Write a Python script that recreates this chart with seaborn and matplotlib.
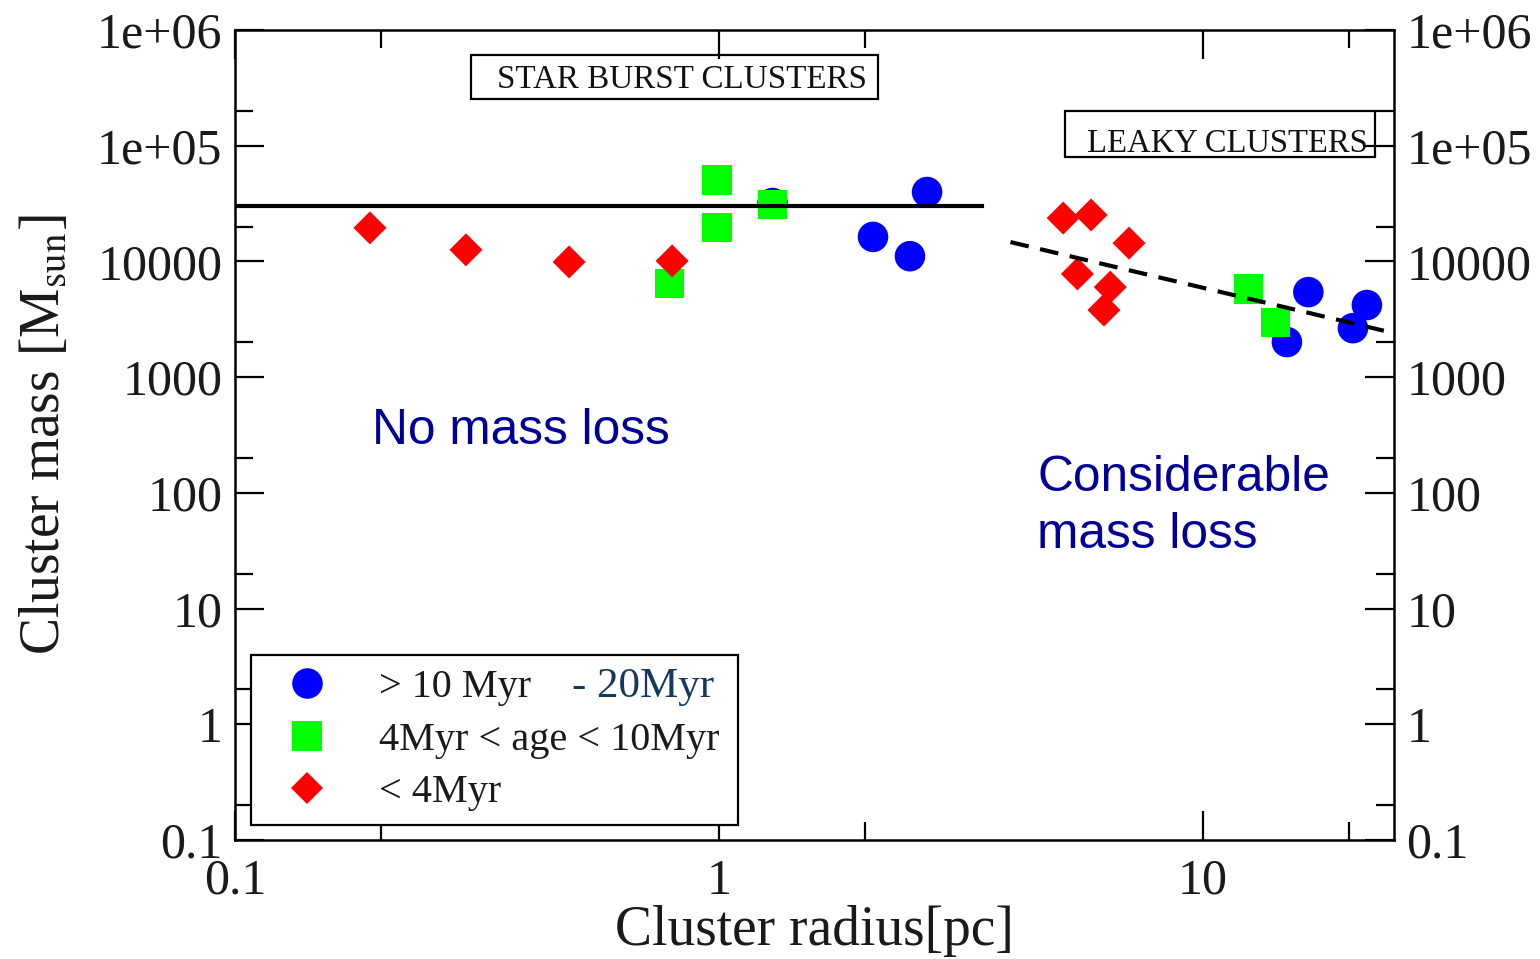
import numpy as np
import pandas as pd
import matplotlib
matplotlib.use("Agg")
import matplotlib.pyplot as plt
from matplotlib.lines import Line2D
from matplotlib.patches import Rectangle
from matplotlib.ticker import FixedLocator, FixedFormatter, NullFormatter
import seaborn as sns

# ---- cluster samples: radius [pc] and mass [Msun] by age group ----
old_radius = [1.29, 2.08, 2.48, 2.69, 14.9, 16.5, 20.4, 21.8]
old_mass = [32000, 16300, 11100, 39800, 2010, 5430, 2650, 4200]

mid_radius = [0.79, 0.99, 0.99, 1.29, 12.4, 14.1]
mid_mass = [6400, 19800, 50600, 31300, 5770, 2990]

young_radius = [0.19, 0.30, 0.49, 0.80, 5.14, 5.87, 7.03, 5.50, 6.43, 6.24]
young_mass = [19500, 12600, 9900, 10100, 23700, 25200, 14400, 7800, 6000, 3800]

group_labels = ["> 10 Myr", "4Myr < age < 10Myr", "< 4Myr"]
group_colors = ["#0000ff", "#00ff00", "#ff0000"]

# reference relations
flat_radius = [0.1, 3.5]
flat_mass = [30000, 30000]
leaky_radius = [4.0, 24.8]
leaky_mass = [14700, 2400]

# axis ticks
x_major = [0.1, 1, 10]
x_major_labels = ["0.1", "1", "10"]
x_minor = [0.2, 2, 20]
y_major = [0.1, 1, 10, 100, 1000, 10000, 1e5, 1e6]
y_major_labels = ["0.1", "1", "10", "100", "1000", "10000", "1e+05", "1e+06"]
y_minor = [0.2, 2, 20, 200, 2000, 20000, 2e5]

sns.set_style("ticks")
plt.rcParams["font.family"] = ["Liberation Serif", "DejaVu Serif"]
plt.rcParams["mathtext.fontset"] = "stix"

df = pd.concat([
    pd.DataFrame({"radius": old_radius, "mass": old_mass, "age": group_labels[0]}),
    pd.DataFrame({"radius": mid_radius, "mass": mid_mass, "age": group_labels[1]}),
    pd.DataFrame({"radius": young_radius, "mass": young_mass, "age": group_labels[2]}),
], ignore_index=True)

marker_map = dict(zip(group_labels, ["o", "s", "D"]))
color_map = dict(zip(group_labels, group_colors))
size_map = dict(zip(group_labels, [22.0 ** 2, 21.0 ** 2, 16.8 ** 2]))

fig = plt.figure(figsize=(15.4, 9.59), dpi=100)
ax = fig.add_axes([0.1526, 0.1241, 0.7526, 0.8446])

sns.scatterplot(data=df, x="radius", y="mass", hue="age", style="age", size="age",
                palette=color_map, markers=marker_map, sizes=size_map,
                hue_order=group_labels, style_order=group_labels, size_order=group_labels,
                linewidth=0, legend=False, ax=ax, zorder=3)

sns.lineplot(x=flat_radius, y=flat_mass, color="black", lw=3.0, ax=ax, zorder=4,
             solid_capstyle="projecting")
sns.lineplot(x=leaky_radius, y=leaky_mass, color="black", lw=3.0, ax=ax, zorder=4,
             linestyle=(0, (4.5, 2.8)))

ax.set_xscale("log")
ax.set_yscale("log")
ax.set_xlim(0.1, 24.8)
ax.set_ylim(0.1, 1e6)

ax.xaxis.set_major_locator(FixedLocator(x_major))
ax.xaxis.set_major_formatter(FixedFormatter(x_major_labels))
ax.xaxis.set_minor_locator(FixedLocator(x_minor))
ax.xaxis.set_minor_formatter(NullFormatter())
ax.yaxis.set_major_locator(FixedLocator(y_major))
ax.yaxis.set_major_formatter(FixedFormatter(y_major_labels))
ax.yaxis.set_minor_locator(FixedLocator(y_minor))
ax.yaxis.set_minor_formatter(NullFormatter())

ax.tick_params(which="both", direction="in", top=True, right=True,
               labelright=True, width=1.6, color="black")
ax.tick_params(which="major", length=21, labelsize=36, labelcolor="#1a1a1a")
ax.tick_params(which="minor", length=13)
ax.tick_params(axis="x", which="major", pad=13)
ax.tick_params(axis="y", which="major", pad=9)

for s in ax.spines.values():
    s.set_linewidth(1.8)
    s.set_color("black")

ax.set_xlabel("Cluster radius[pc]", fontsize=40, labelpad=0, color="#1a1a1a")
ax.set_ylabel(r"Cluster mass [M$_{\mathrm{sun}}$]", fontsize=40, labelpad=19,
              color="#1a1a1a")

# region labels in boxes
ax.add_patch(Rectangle((0.2036, 0.9148), 0.3512, 0.0543, transform=ax.transAxes,
                       fill=False, lw=1.6, ec="black", zorder=5))
ax.text(0.2260, 0.9280, "STAR BURST CLUSTERS", transform=ax.transAxes,
        fontsize=23.8, va="baseline", ha="left", color="#111111", zorder=5)
ax.add_patch(Rectangle((0.7161, 0.8432), 0.2675, 0.0568, transform=ax.transAxes,
                       fill=False, lw=1.6, ec="black", zorder=5))
ax.text(0.7351, 0.8494, "LEAKY CLUSTERS", transform=ax.transAxes,
        fontsize=23.5, va="baseline", ha="left", color="#111111", zorder=5)

# mass-loss annotations
ax.text(0.1182, 0.4889, "No mass loss", transform=ax.transAxes, fontsize=35.7,
        family=["Liberation Sans", "DejaVu Sans"], color="#000099", va="baseline")
ax.text(0.692, 0.3605, "Considerable\nmass loss", transform=ax.transAxes, fontsize=35.7,
        family=["Liberation Sans", "DejaVu Sans"], color="#000099", va="baseline",
        linespacing=1.3)

# legend
handles = [
    Line2D([], [], ls="none", marker=marker_map[g], markersize=ms, color=color_map[g],
           markeredgewidth=0)
    for g, ms in zip(group_labels, [22.0, 21.0, 16.8])
]
leg = ax.legend(handles, group_labels, loc="lower left",
                bbox_to_anchor=(0.0138, 0.0185, 0.4202, 0.2), mode="expand",
                borderaxespad=0, fontsize=29, frameon=True, fancybox=False,
                edgecolor="black", framealpha=1, borderpad=0.34, labelspacing=0.38,
                handlelength=2.1, handletextpad=0.75)
leg.get_frame().set_linewidth(1.6)
leg.set_zorder(6)
for t in leg.get_texts():
    t.set_color("#1a1a1a")

ax.text(0.2908, 0.1765, "- 20Myr", transform=ax.transAxes, fontsize=31,
        color="#17375e", va="baseline", ha="left", zorder=7)

fig.savefig("out.png", dpi=100)
